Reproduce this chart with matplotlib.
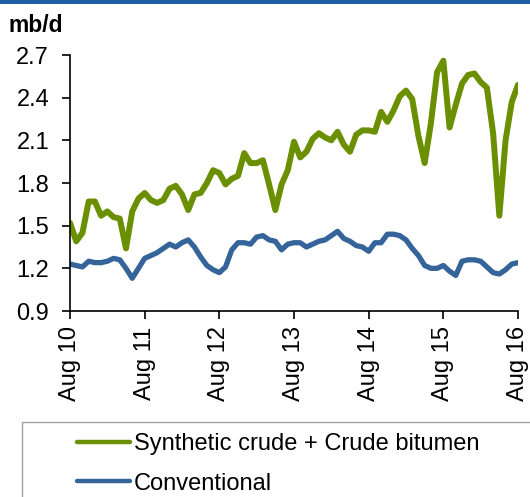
import numpy as np
import matplotlib
matplotlib.use("Agg")
import matplotlib.pyplot as plt
from matplotlib.patches import Rectangle

plt.rcParams['font.family'] = ['Liberation Sans', 'DejaVu Sans']

# monthly production, Aug 2010 - Aug 2016 (mb/d)
synthetic_bitumen = [
    1.52, 1.39, 1.45, 1.67, 1.67, 1.57, 1.60, 1.56, 1.55, 1.34,
    1.60, 1.69, 1.73, 1.68, 1.66, 1.68, 1.76, 1.78, 1.72, 1.61,
    1.72, 1.73, 1.80, 1.89, 1.87, 1.79, 1.83, 1.85, 2.01, 1.94,
    1.94, 1.96, 1.79, 1.61, 1.79, 1.89, 2.09, 1.98, 2.02, 2.11,
    2.15, 2.12, 2.10, 2.16, 2.07, 2.02, 2.14, 2.17, 2.17, 2.16,
    2.30, 2.23, 2.31, 2.41, 2.45, 2.39, 2.13, 1.94, 2.22, 2.58,
    2.66, 2.19, 2.35, 2.50, 2.56, 2.57, 2.51, 2.47, 2.15, 1.57,
    2.10, 2.37, 2.49,
]
conventional = [
    1.23, 1.22, 1.21, 1.25, 1.24, 1.24, 1.25, 1.27, 1.26, 1.20,
    1.13, 1.20, 1.27, 1.29, 1.31, 1.34, 1.37, 1.35, 1.38, 1.40,
    1.35, 1.28, 1.22, 1.19, 1.17, 1.21, 1.33, 1.38, 1.38, 1.37,
    1.42, 1.43, 1.40, 1.39, 1.33, 1.37, 1.38, 1.38, 1.35, 1.37,
    1.39, 1.40, 1.43, 1.46, 1.41, 1.39, 1.36, 1.35, 1.32, 1.38,
    1.38, 1.44, 1.44, 1.43, 1.40, 1.34, 1.29, 1.22, 1.20, 1.20,
    1.22, 1.18, 1.15, 1.25, 1.26, 1.26, 1.25, 1.21, 1.17, 1.16,
    1.19, 1.23, 1.24,
]
tick_labels = ['Aug 10', 'Aug 11', 'Aug 12', 'Aug 13', 'Aug 14', 'Aug 15', 'Aug 16']

GREEN = '#6a8f00'
BLUE = '#35649a'

months = np.arange(len(synthetic_bitumen))

fig = plt.figure(figsize=(5.30, 4.97), dpi=100)
ax = fig.add_axes([70/530, 1 - 311/497, 448/530, 256/497])

l1, = ax.plot(months, synthetic_bitumen, color=GREEN, lw=4.3,
              solid_joinstyle='round', solid_capstyle='round')
l2, = ax.plot(months, conventional, color=BLUE, lw=3.8,
              solid_joinstyle='round', solid_capstyle='round')

ax.set_xlim(0, 72)
ax.set_ylim(0.9, 2.7)
ax.set_yticks(np.arange(0.9, 2.71, 0.3))
ax.set_yticklabels([f'{v:.1f}' for v in np.arange(0.9, 2.71, 0.3)])
ax.set_xticks(np.arange(0, 73, 12))
ax.set_xticklabels(tick_labels, rotation=90)

for s in ['top', 'right']:
    ax.spines[s].set_visible(False)
for s in ['left', 'bottom']:
    ax.spines[s].set_linewidth(1.2)
ax.tick_params(axis='both', direction='out', length=6, width=1.2, labelsize=17)
ax.tick_params(axis='y', pad=9)
ax.tick_params(axis='x', pad=5)

fig.text(8/530, 1 - 25/497, 'mb/d', fontsize=16.5, fontweight='bold', va='center', ha='left')

# header strip
fig.patches.append(Rectangle((0, 1 - 4/497), 1, 4/497, transform=fig.transFigure,
                             facecolor='#1f5fa8', edgecolor='none'))

# legend box running off the bottom-right corner
fig.patches.append(Rectangle((22/530, -0.05), 1.0, 1 - 422/497 + 0.05,
                             transform=fig.transFigure, facecolor='white',
                             edgecolor='#a0a0a0', lw=1.0))
leg = fig.legend([l1, l2], ['Synthetic crude + Crude bitumen', 'Conventional'],
                 loc='upper left', bbox_to_anchor=(58/530, 1 - 414/497),
                 frameon=False, fontsize=17, handlelength=2.25, handletextpad=0.15,
                 labelspacing=0.75, borderpad=0.3)
for h in leg.get_lines():
    h.set_linewidth(3.2)

fig.savefig('out.png', dpi=100)
